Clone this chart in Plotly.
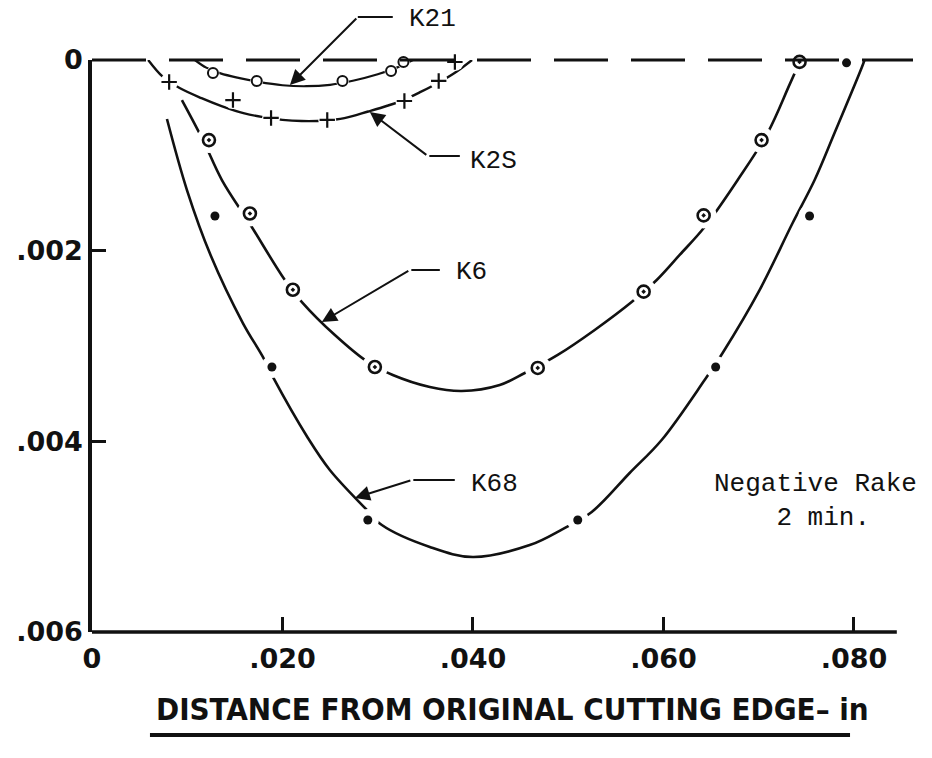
import plotly.graph_objects as go

# ---------------- data (inches) ----------------
# K21 : open circles
k21_x = [0.0127, 0.0173, 0.0263, 0.0314, 0.0327]
k21_y = [0.000136, 0.00022, 0.00022, 0.000115, 0.00002]
k21_curve_x = [0.0108, 0.0120, 0.0135, 0.0155, 0.0175, 0.0200, 0.0225, 0.0250, 0.0275, 0.0300, 0.0320, 0.0337]
k21_curve_y = [0.0, 0.00008, 0.00014, 0.00019, 0.00023, 0.000265, 0.000275, 0.00026, 0.000215, 0.00015, 0.00008, 0.0]

# K2S : plus markers
k2s_x = [0.0081, 0.0148, 0.0188, 0.0247, 0.0328, 0.0364, 0.0381]
k2s_y = [0.000231, 0.00042, 0.000608, 0.000629, 0.00043, 0.00022, 0.000021]
k2s_curve_x = [0.0059, 0.00745, 0.0092, 0.0115, 0.0136, 0.0160, 0.0180, 0.0200, 0.0220, 0.0245,
               0.0265, 0.0290, 0.0310, 0.0327, 0.0345, 0.0365, 0.0383, 0.0399]
k2s_curve_y = [0.0, 0.000178, 0.000294, 0.0004, 0.000483, 0.00056, 0.0006, 0.000628, 0.00064, 0.000635,
               0.00061, 0.00054, 0.00048, 0.00042, 0.000335, 0.00023, 0.00012, 0.0]

# K6 : circle with dot
k6_x = [0.01228, 0.01658, 0.02109, 0.0297, 0.0468, 0.05792, 0.06422, 0.0703, 0.07429]
k6_y = [0.00084, 0.00161, 0.00241, 0.00322, 0.00323, 0.00243, 0.00163, 0.00084, 0.00002]
k6_curve_x = [0.00944, 0.01165, 0.01364, 0.01658, 0.02025, 0.02204, 0.0255, 0.02896, 0.03158, 0.03547,
              0.03882, 0.04281, 0.04544, 0.0489, 0.05278, 0.05666, 0.05929, 0.0617, 0.06432, 0.06779,
              0.07093, 0.07324, 0.0744]
k6_curve_y = [0.00042, 0.000839, 0.001259, 0.00172, 0.002308, 0.002539, 0.002885, 0.003168, 0.003304, 0.00343,
              0.003472, 0.003409, 0.003283, 0.003094, 0.002832, 0.002539, 0.002308, 0.002045, 0.001752, 0.001259,
              0.000766, 0.000258, 0.0]

# K68 : filled dots
k68_x = [0.01291, 0.01889, 0.02896, 0.0510, 0.06548, 0.07534, 0.07922]
k68_y = [0.001636, 0.00322, 0.004825, 0.004825, 0.00322, 0.001636, 0.00003]
k68_curve_x = [0.00787, 0.00997, 0.01249, 0.01584, 0.01794, 0.01899, 0.02267, 0.02497, 0.02865, 0.03043,
               0.03547, 0.03998, 0.04596, 0.04942, 0.05247, 0.05645, 0.05981, 0.06432, 0.06621, 0.07009,
               0.07356, 0.07587, 0.07796, 0.0808, 0.08111]
k68_curve_y = [0.000619, 0.001364, 0.002056, 0.002759, 0.003115, 0.003325, 0.003965, 0.004301, 0.004699, 0.004878,
               0.005108, 0.005213, 0.005088, 0.00492, 0.004741, 0.004332, 0.003986, 0.003357, 0.003073, 0.002413,
               0.00171, 0.001259, 0.000766, 0.000084, 0.0]

x_tickvals = [0, 0.02, 0.04, 0.06, 0.08]
x_ticktext = ["0", ".020", ".040", ".060", ".080"]
y_tickvals = [0, 0.002, 0.004, 0.006]
y_ticktext = ["0", ".002", ".004", ".006"]

X_MAX = 0.0862
X_AXIS_END = 0.0845

INK = "#111111"
MONO = "Liberation Mono, Courier New, monospace"
LABEL_SIZE = 26

fig = go.Figure()

# curves
for cx, cy, w in [(k21_curve_x, k21_curve_y, 2.2), (k2s_curve_x, k2s_curve_y, 2.4),
                  (k6_curve_x, k6_curve_y, 2.6), (k68_curve_x, k68_curve_y, 2.6)]:
    fig.add_trace(go.Scatter(x=cx, y=cy, mode="lines",
                             line=dict(color=INK, width=w, shape="spline", smoothing=1.0),
                             hoverinfo="skip", showlegend=False))

# white masks -> small gaps in curves around the plotted points
for mx, my, s in [(k21_x, k21_y, 13), (k2s_x, k2s_y, 18), (k6_x, k6_y, 26), (k68_x, k68_y, 22)]:
    fig.add_trace(go.Scatter(x=mx, y=my, mode="markers",
                             marker=dict(color="white", size=s, line=dict(width=0)),
                             hoverinfo="skip", showlegend=False, cliponaxis=False))

# markers
fig.add_trace(go.Scatter(x=k21_x, y=k21_y, mode="markers", name="K21", cliponaxis=False,
                         marker=dict(symbol="circle-open", size=10, color=INK, line=dict(width=2))))
fig.add_trace(go.Scatter(x=k2s_x, y=k2s_y, mode="markers", name="K2S", cliponaxis=False,
                         marker=dict(symbol="cross-thin-open", size=11, color=INK, line=dict(width=2.2, color=INK))))
fig.add_trace(go.Scatter(x=k6_x, y=k6_y, mode="markers", name="K6", cliponaxis=False,
                         marker=dict(symbol="circle-open-dot", size=12, color=INK, line=dict(width=2.6))))
fig.add_trace(go.Scatter(x=k68_x, y=k68_y, mode="markers", name="K68", cliponaxis=False,
                         marker=dict(symbol="circle", size=9, color=INK)))

shapes = [
    # dashed zero line along the top
    dict(type="line", xref="x", yref="paper", x0=0, x1=X_MAX, y0=1, y1=1,
         line=dict(color=INK, width=3, dash="54px,23px"), layer="above"),
    # x axis line (stops short of the right edge)
    dict(type="line", xref="x", yref="paper", x0=0, x1=X_AXIS_END, y0=0, y1=0,
         line=dict(color=INK, width=3.5), layer="above"),
    # K21 leader horizontal part (above the plot area)
    dict(type="line", xref="x", yref="paper", x0=0.02791, x1=0.03158, y0=1.0752, y1=1.0752,
         line=dict(color=INK, width=2)),
    # underline of the x title
    dict(type="line", xref="paper", yref="paper", x0=0.0706, x1=0.9233, y0=-0.18, y1=-0.18,
         line=dict(color=INK, width=4)),
]

annotations = []


def arrow(tip, elbow):
    annotations.append(dict(x=tip[0], y=tip[1], ax=elbow[0], ay=elbow[1], xref="x", yref="y",
                            axref="x", ayref="y", text="", showarrow=True, arrowhead=2,
                            arrowsize=1.5, arrowwidth=2, arrowcolor=INK, standoff=0))


def leader(tip, elbow, end):
    arrow(tip, elbow)
    annotations.append(dict(x=end[0], y=end[1], ax=elbow[0], ay=elbow[1], xref="x", yref="y",
                            axref="x", ayref="y", text="", showarrow=True, arrowhead=0,
                            arrowwidth=2, arrowcolor=INK, standoff=0))


def label(x, y, text, yref="y"):
    annotations.append(dict(x=x, y=y, xref="x", yref=yref, text=text, showarrow=False,
                            font=dict(family=MONO, size=LABEL_SIZE, color=INK),
                            xanchor="center", yanchor="middle"))


arrow((0.02078, 0.000262), (0.02791, -0.000451))
label(0.03578, 1.0717, "K21", yref="paper")
leader((0.02917, 0.000545), (0.03526, 0.001007), (0.03862, 0.001007))
label(0.04218, 0.00106, "K2S")
leader((0.02413, 0.002748), (0.03337, 0.002203), (0.03652, 0.002203))
label(0.03987, 0.002224, "K6")
leader((0.0276, 0.004594), (0.03358, 0.004406), (0.03809, 0.004406))
label(0.04229, 0.004448, "K68")

annotations.append(dict(x=0.06506, y=0.004626, xref="x", yref="y", xanchor="left", yanchor="middle",
                        align="left", showarrow=False,
                        text="Negative Rake<br>\u00a0\u00a0\u00a0\u00a02 min.",
                        font=dict(family=MONO, size=LABEL_SIZE, color=INK)))

annotations.append(dict(x=0.5116, y=-0.1346, xref="paper", yref="paper", xanchor="center", yanchor="middle",
                        showarrow=False, text="DISTANCE FROM ORIGINAL CUTTING EDGE\u2013 in",
                        font=dict(family="DejaVu Sans Condensed, Liberation Sans Narrow, DejaVu Sans, sans-serif",
                                  size=31, color=INK, weight="bold")))

tickfont = dict(family="DejaVu Sans, sans-serif", size=27, color=INK, weight="bold")

fig.update_layout(
    width=932, height=758,
    margin=dict(l=92, r=19, t=60, b=126),
    paper_bgcolor="white", plot_bgcolor="white",
    showlegend=False,
    shapes=shapes, annotations=annotations,
    xaxis=dict(range=[0, X_MAX], tickvals=x_tickvals, ticktext=x_ticktext, ticks="inside",
               ticklen=15, tickwidth=3, tickcolor=INK, showline=False, showgrid=False, zeroline=False,
               tickfont=tickfont, ticklabelstandoff=8, fixedrange=True),
    yaxis=dict(range=[0.006, 0], tickvals=y_tickvals, ticktext=y_ticktext, ticks="inside",
               ticklen=14, tickwidth=3, tickcolor=INK, showline=True, linewidth=3.5, linecolor=INK,
               showgrid=False, zeroline=False, tickfont=tickfont, fixedrange=True),
)

fig.write_html("out.html")
